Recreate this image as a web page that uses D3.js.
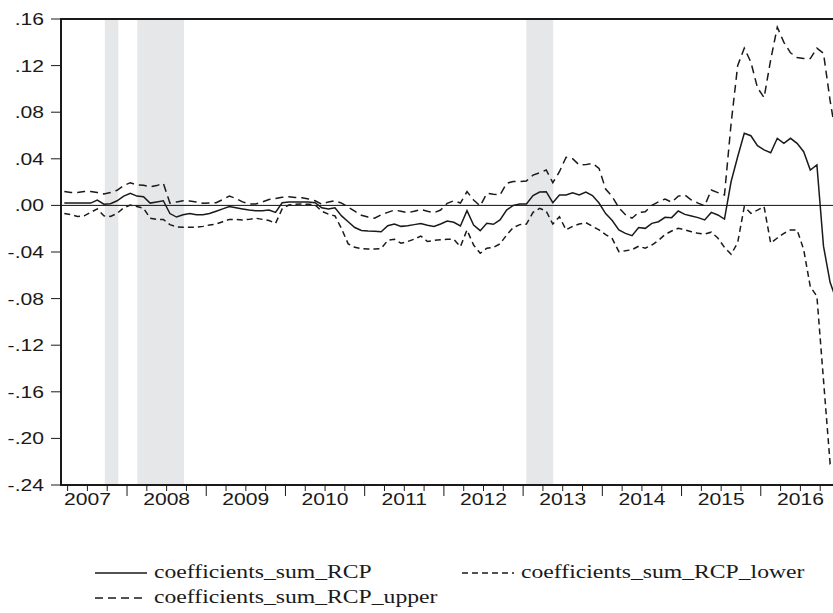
<!DOCTYPE html>
<html>
<head>
<meta charset="utf-8">
<script src="https://cdn.jsdelivr.net/npm/d3@7"></script>
<style>
  body { margin: 0; background: #fff; }
  svg { display: block; }
</style>
</head>
<body>
<div id="chart"></div>
<script>
// monthly observations, 2007M03 .. 2016M12
var months = d3.timeMonth.range(new Date(2007, 2, 1), new Date(2017, 0, 1));

var rcp = [
  0.002, 0.002, 0.002, 0.002, 0.002, 0.0046, 0.001, 0.0015, 0.004, 0.008,
  0.0104, 0.008, 0.0075, 0.002, 0.003, 0.004, -0.007, -0.010, -0.008, -0.007,
  -0.008, -0.008, -0.007, -0.005, -0.003, -0.001, -0.002, -0.003, -0.004, -0.0045,
  -0.0045, -0.004, -0.006, 0.0023, 0.003, 0.003, 0.003, 0.003, 0.0023, -0.002,
  -0.003, -0.002, -0.009, -0.014, -0.019, -0.0215, -0.022, -0.0222, -0.0226, -0.0175,
  -0.016, -0.018, -0.0175, -0.0165, -0.0155, -0.017, -0.018, -0.016, -0.0135, -0.0145,
  -0.0177, -0.0045, -0.0168, -0.0217, -0.0154, -0.0162, -0.0125, -0.004, 0.000, 0.0012,
  0.0012, 0.0085, 0.0115, 0.0118, 0.0023, 0.0089, 0.0089, 0.0109, 0.0089, 0.0115,
  0.0085, 0.002, -0.007, -0.013, -0.021, -0.024, -0.026, -0.019, -0.0197, -0.0154,
  -0.014, -0.0102, -0.0105, -0.0048, -0.0077, -0.0091, -0.0105, -0.0125, -0.006, -0.0082,
  -0.0117, 0.0203, 0.0418, 0.0619, 0.0598, 0.0512, 0.0476, 0.0452, 0.0576, 0.0533,
  0.0576, 0.0533, 0.0461, 0.0304, 0.0347, -0.035, -0.066, -0.082
];

var rcpLower = [
  -0.007, -0.008, -0.0095, -0.009, -0.006, -0.003, -0.009, -0.0095, -0.0068, -0.002,
  0.0003, -0.001, -0.0025, -0.011, -0.012, -0.012, -0.0165, -0.0185, -0.0188, -0.0188,
  -0.0188, -0.018, -0.0168, -0.016, -0.014, -0.012, -0.012, -0.0125, -0.012, -0.011,
  -0.012, -0.013, -0.0154, -0.003, 0.0003, 0.001, 0.0012, 0.001, 0.0003, -0.005,
  -0.0075, -0.009, -0.020, -0.033, -0.036, -0.037, -0.0374, -0.0374, -0.037, -0.030,
  -0.029, -0.0325, -0.031, -0.029, -0.0263, -0.031, -0.030, -0.0295, -0.029, -0.029,
  -0.0354, -0.0211, -0.034, -0.0411, -0.0368, -0.036, -0.033, -0.0254, -0.019, -0.0165,
  -0.016, -0.006, -0.0025, -0.005, -0.016, -0.0097, -0.021, -0.018, -0.016, -0.0148,
  -0.018, -0.021, -0.025, -0.0285, -0.0397, -0.039, -0.038, -0.035, -0.0368, -0.034,
  -0.030, -0.025, -0.022, -0.0197, -0.021, -0.0226, -0.024, -0.0245, -0.023, -0.028,
  -0.036, -0.042, -0.032, -0.0011, -0.0068, -0.004, -0.001, -0.0325, -0.028, -0.024,
  -0.0211, -0.021, -0.038, -0.0698, -0.078, -0.150, -0.2214, -0.216
];

var rcpUpper = [
  0.012, 0.011, 0.011, 0.012, 0.012, 0.011, 0.0098, 0.011, 0.013, 0.017,
  0.0195, 0.0175, 0.0172, 0.016, 0.017, 0.019, 0.002, 0.003, 0.004, 0.0038,
  0.003, 0.0018, 0.002, 0.0023, 0.005, 0.008, 0.006, 0.003, 0.0012, 0.0012,
  0.003, 0.005, 0.006, 0.007, 0.0075, 0.0068, 0.0066, 0.0055, 0.004, 0.001,
  0.003, 0.004, 0.002, -0.0015, -0.005, -0.0085, -0.010, -0.011, -0.008, -0.006,
  -0.004, -0.005, -0.0063, -0.005, -0.0035, -0.005, -0.0063, -0.004, 0.0018, 0.004,
  0.002, 0.0118, 0.0046, -0.0005, 0.0104, 0.0095, 0.009, 0.019, 0.0205, 0.0205,
  0.021, 0.026, 0.028, 0.0304, 0.0195, 0.0289, 0.0413, 0.040, 0.0347, 0.035,
  0.0361, 0.0318, 0.014, 0.0075, -0.002, -0.008, -0.011, -0.006, -0.0054, 0.000,
  0.003, 0.0055, 0.0027, 0.008, 0.0089, 0.0046, 0.002, -0.0003, 0.0132, 0.011,
  0.0089, 0.070, 0.120, 0.135, 0.123, 0.101, 0.0925, 0.125, 0.153, 0.140,
  0.131, 0.127, 0.126, 0.126, 0.135, 0.1305, 0.090, 0.056
];

// shaded periods, decimal years
var shadeStart = [2007.72, 2008.13, 2013.04];
var shadeEnd   = [2007.89, 2008.72, 2013.38];

var yTicks = [0.16, 0.12, 0.08, 0.04, 0.00, -0.04, -0.08, -0.12, -0.16, -0.20, -0.24];
var years = [2007, 2008, 2009, 2010, 2011, 2012, 2013, 2014, 2015, 2016];

var legendNames = ["coefficients_sum_RCP", "coefficients_sum_RCP_lower", "coefficients_sum_RCP_upper"];

var W = 833, H = 613;
var plotLeft = 61, plotRight = 840, plotTop = 19, plotBottom = 485;
var stretch = 1.28; // text in the original is widened horizontally

function decYear(d) {
  return d.getFullYear() + d.getMonth() / 12 + 1 / 24;
}

var x = d3.scaleLinear().domain([2007 + 2 / 12, 2017]).range([plotLeft, plotRight]);
var y = d3.scaleLinear().domain([-0.24, 0.16]).range([plotBottom, plotTop]);

var svg = d3.select('#chart').append('svg')
  .attr('width', W)
  .attr('height', H);

svg.append('defs').append('clipPath').attr('id', 'plot')
  .append('rect')
    .attr('x', plotLeft).attr('y', plotTop)
    .attr('width', plotRight - plotLeft).attr('height', plotBottom - plotTop);

// shading
svg.append('g').selectAll('rect')
  .data(d3.range(shadeStart.length))
  .enter().append('rect')
    .attr('x', function (i) { return x(shadeStart[i]); })
    .attr('width', function (i) { return x(shadeEnd[i]) - x(shadeStart[i]); })
    .attr('y', plotTop)
    .attr('height', plotBottom - plotTop)
    .attr('fill', '#e6e7e9');

// zero line
svg.append('line')
  .attr('x1', plotLeft).attr('x2', plotRight)
  .attr('y1', y(0)).attr('y2', y(0))
  .attr('stroke', '#111').attr('stroke-width', 1);

// series
var series = [
  { values: rcp, dash: null },
  { values: rcpLower, dash: '6,4' },
  { values: rcpUpper, dash: '8,5' }
];

var line = d3.line()
  .x(function (d, i) { return x(decYear(months[i])); })
  .y(function (d) { return y(d); });

svg.append('g').attr('clip-path', 'url(#plot)')
  .selectAll('path')
  .data(series)
  .enter().append('path')
    .attr('d', function (s) { return line(s.values); })
    .attr('fill', 'none')
    .attr('stroke', '#1a1a1a')
    .attr('stroke-width', 1.5)
    .attr('stroke-dasharray', function (s) { return s.dash; });

// frame
svg.append('path')
  .attr('d', 'M' + plotRight + ',' + plotTop + 'H' + plotLeft + 'V' + plotBottom + 'H' + plotRight)
  .attr('fill', 'none')
  .attr('stroke', '#1a1a1a')
  .attr('stroke-width', 2);

// y axis, EViews style labels: ".16", "-.04"
var fmt = d3.format('.2f');
var yAxis = svg.append('g');
yAxis.selectAll('line')
  .data(yTicks)
  .enter().append('line')
    .attr('x1', plotLeft - 10).attr('x2', plotLeft)
    .attr('y1', function (d) { return y(d); })
    .attr('y2', function (d) { return y(d); })
    .attr('stroke', '#1a1a1a').attr('stroke-width', 1);
yAxis.selectAll('text')
  .data(yTicks)
  .enter().append('text')
    .attr('transform', function (d) { return 'translate(44,' + (y(d) + 6) + ') scale(' + stretch + ',1)'; })
    .attr('text-anchor', 'end')
    .style('font-family', '"Liberation Sans", Arial, sans-serif')
    .style('font-size', '16.5px')
    .style('fill', '#1a1a1a')
    .text(function (d) { return fmt(d).replace('\u2212', '-').replace('0.', '.'); });

// x axis
var quarters = d3.range(2007.25, 2017, 0.25).filter(function (q) { return x(q) > plotLeft + 1; });
var xAxis = svg.append('g');
xAxis.selectAll('line')
  .data(quarters)
  .enter().append('line')
    .attr('x1', function (d) { return x(d); })
    .attr('x2', function (d) { return x(d); })
    .attr('y1', plotBottom)
    .attr('y2', function (d) { return plotBottom + (d % 1 === 0 ? 11 : 6); })
    .attr('stroke', '#1a1a1a').attr('stroke-width', 1);
xAxis.selectAll('text')
  .data(years)
  .enter().append('text')
    .attr('transform', function (d) { return 'translate(' + x(d + 0.5) + ',' + (plotBottom + 20) + ') scale(' + stretch + ',1)'; })
    .attr('text-anchor', 'middle')
    .style('font-family', '"Liberation Sans", Arial, sans-serif')
    .style('font-size', '16.5px')
    .style('fill', '#1a1a1a')
    .text(function (d) { return d; });

// legend
var legendPos = [
  { x: 95, y: 573, dash: null },
  { x: 462, y: 573, dash: '6,4' },
  { x: 95, y: 598, dash: '8,5' }
];
var legend = svg.append('g');
legendPos.forEach(function (p, i) {
  legend.append('line')
    .attr('x1', p.x).attr('x2', p.x + 52)
    .attr('y1', p.y).attr('y2', p.y)
    .attr('stroke', '#1a1a1a').attr('stroke-width', 1.4)
    .attr('stroke-dasharray', p.dash);
  legend.append('text')
    .attr('transform', 'translate(' + (p.x + 59) + ',' + (p.y + 5) + ') scale(' + stretch + ',1)')
    .style('font-family', '"Liberation Serif", "Times New Roman", serif')
    .style('font-size', '18.5px')
    .style('fill', '#1a1a1a')
    .text(legendNames[i]);
});
</script>
</body>
</html>
